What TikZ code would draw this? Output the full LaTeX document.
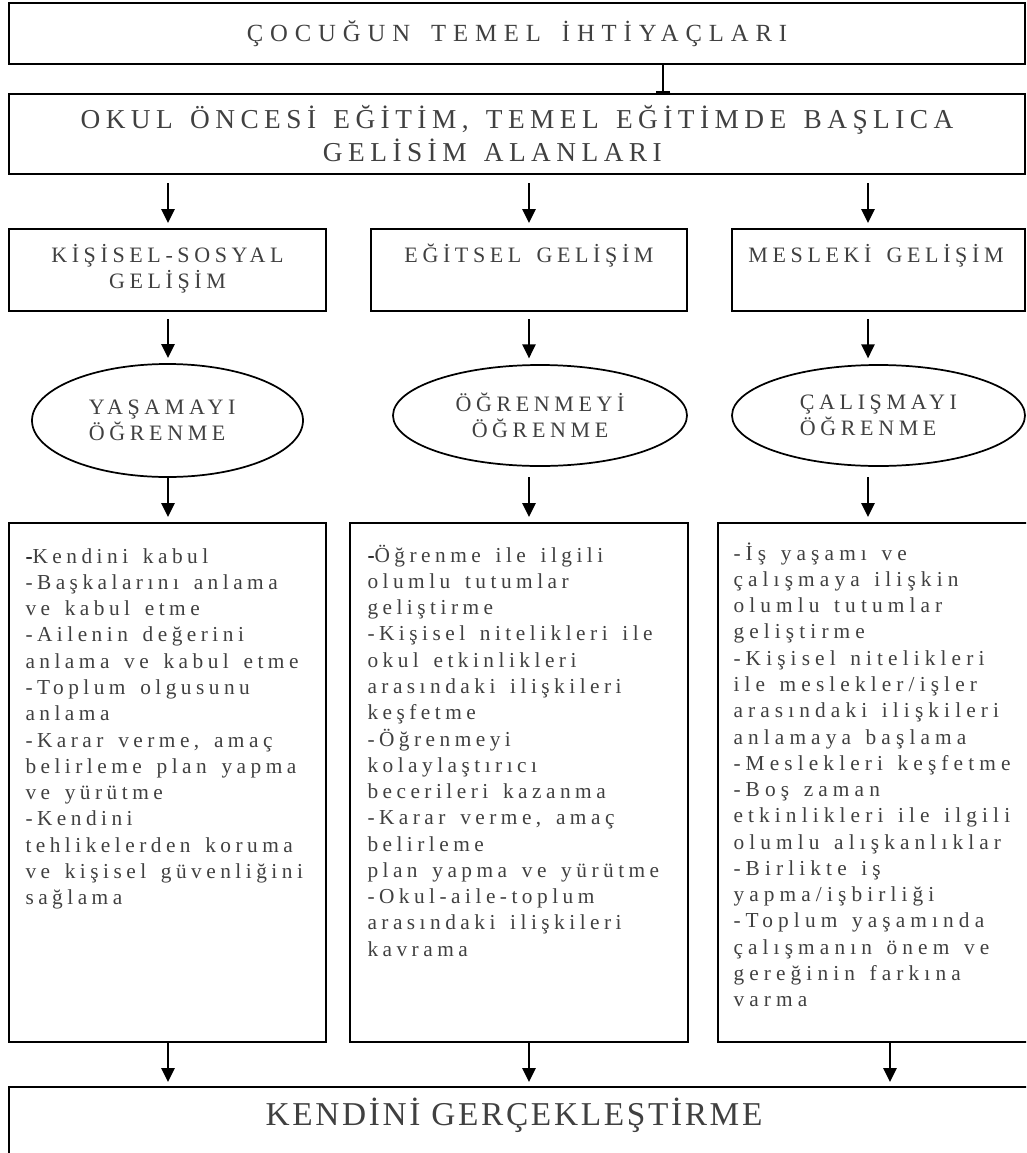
\documentclass[tikz,border=0pt]{standalone}
\usepackage{fontspec}
\setmainfont{Liberation Serif}
\newfontfamily\titlefont[LetterSpace=28,WordSpace=1.6]{Liberation Serif}
\newfontfamily\headfont[LetterSpace=20,WordSpace=1.4]{Liberation Serif}
\newfontfamily\rowfont[LetterSpace=21,WordSpace=1.3]{Liberation Serif}
\newfontfamily\listfont[LetterSpace=21,WordSpace=1.5]{Liberation Serif}
\newfontfamily\widelistfont[LetterSpace=24,WordSpace=1.4]{Liberation Serif}
\newfontfamily\endfont[LetterSpace=8]{Liberation Serif}
\usetikzlibrary{shapes.geometric,arrows.meta}
\definecolor{txtgray}{RGB}{64,64,64}

\tikzset{every picture/.style={line width=0.75pt}}
\tikzset{
  box/.style={draw, rectangle, line width=1.3pt, inner sep=0pt, outer sep=0pt},
  oval/.style={draw, ellipse, line width=1.3pt, inner sep=0pt, outer sep=0pt,
    text=txtgray, font={\fontsize{16.5}{19.5}\rowfont}},
  titletext/.style={text=txtgray, font={\fontsize{18.5}{22}\titlefont}},
  headtext/.style={text=txtgray, font={\fontsize{20.5}{24.75}\headfont}},
  rowtext/.style={inner sep=0pt, align=center, text=txtgray, font={\fontsize{16.5}{19.5}\rowfont}},
  listtext/.style={inner sep=0pt, align=left, text=txtgray, font={\fontsize{16}{19.7}\listfont}},
  widelisttext/.style={listtext, font={\fontsize{16}{19.7}\widelistfont}},
  endtext/.style={inner sep=0pt, text=txtgray, font={\fontsize{25}{29}\endfont}},
  arrow/.style={line width=1.3pt, -{Triangle[length=10.5pt,width=10pt]}},
  bararrow/.style={line width=1.3pt, -{Bar[width=11pt,line width=1.3pt]}}
}

\begin{document}
\begin{tikzpicture}[x=0.75pt,y=0.75pt,yscale=-1,xscale=1]
\path[use as bounding box] (0,0) rectangle (1026,1153);
\clip (0,0) rectangle (1026,1153);

% columns of the arrows
\coordinate (colT) at (663,0);
\coordinate (colA) at (168,0);
\coordinate (colB) at (529,0);
\coordinate (colC) at (868,0);
\coordinate (colD) at (890,0);

% Top boxes
\node[box, titletext, minimum width=762pt, minimum height=45.75pt] (ihtiyac) at (517,33.5) {\raisebox{-1.5pt}{ÇOCUĞUN TEMEL İHTİYAÇLARI}};
\node[box, headtext, align=center, minimum width=762pt, minimum height=60pt] (alanlar) at (517,134) {OKUL ÖNCESİ EĞİTİM, TEMEL EĞİTİMDE BAŞLICA\\GELİSİM ALANLARI\hspace*{1.8em}};

% Gelisim alanlari
\node[box, minimum width=237.75pt, minimum height=61.5pt] (kisisel) at (167.5,270) {};
\node[box, minimum width=237pt, minimum height=61.5pt] (egitsel) at (529,270) {};
\node[box, minimum width=219.75pt, minimum height=61.5pt] (mesleki) at (878.5,270) {};
% Text Node
\node[rowtext, anchor=north] (kisiselText) at (167.5,243) {\rule{0pt}{14pt}KİŞİSEL-SOSYAL\\GELİŞİM};
% Text Node
\node[rowtext, anchor=north] (egitselText) at (529,243) {\rule{0pt}{14pt}EĞİTSEL GELİŞİM};
% Text Node
\node[rowtext, anchor=north] (meslekiText) at (876,243) {\rule{0pt}{14pt}MESLEKİ GELİŞİM};

% Ellipses
\node[oval, align=left, minimum width=203.25pt, minimum height=84.75pt] (yasama) at (167.5,420.5) {YAŞAMAYI\hspace*{8pt}\\ÖĞRENME};
\node[oval, align=center, minimum width=220.5pt, minimum height=75.75pt] (ogrenme) at (540,415.5) {ÖĞRENMEYİ\\ÖĞRENME};
\node[oval, align=left, minimum width=219.75pt, minimum height=75.75pt] (calisma) at (878.5,415.5) {ÇALIŞMAYI\\ÖĞRENME};

% List boxes
\node[box, minimum width=237.75pt, minimum height=389.25pt] (yasamaList) at (167.5,782.5) {};
\node[box, minimum width=253.5pt, minimum height=389.25pt] (ogrenmeList) at (519,782.5) {};
\node[box, minimum width=241.5pt, minimum height=389.25pt] (calismaList) at (879,782.5) {};

% Text Node
\node[listtext, anchor=north west] (yasamaItems) at (25,544) {\rule{0pt}{14pt}{\color{black}-}Kendini kabul\\
-Başkalarını anlama\\
ve kabul etme\\
-Ailenin değerini\\
anlama ve kabul etme\\
-Toplum olgusunu\\
anlama\\
-Karar verme, amaç\\
belirleme plan yapma\\
ve yürütme\\
-Kendini\\
tehlikelerden koruma\\
ve kişisel güvenliğini\\
sağlama};
% Text Node
\node[listtext, anchor=north west] (ogrenmeItems) at (367,543) {\rule{0pt}{14pt}{\color{black}-}Öğrenme ile ilgili\\
olumlu tutumlar\\
geliştirme\\
-Kişisel nitelikleri ile\\
okul etkinlikleri\\
arasındaki ilişkileri\\
keşfetme\\
-Öğrenmeyi\\
kolaylaştırıcı\\
becerileri kazanma\\
-Karar verme, amaç\\
belirleme\\
plan yapma ve yürütme\\
-Okul-aile-toplum\\
arasındaki ilişkileri\\
kavrama};
% Text Node
\node[widelisttext, anchor=north west] (calismaItems) at (733,541) {\rule{0pt}{14pt}-İş yaşamı ve\\
çalışmaya ilişkin\\
olumlu tutumlar\\
geliştirme\\
-Kişisel nitelikleri\\
ile meslekler/işler\\
arasındaki ilişkileri\\
anlamaya başlama\\
-Meslekleri keşfetme\\
-Boş zaman\\
etkinlikleri ile ilgili\\
olumlu alışkanlıklar\\
-Birlikte iş\\
yapma/işbirliği\\
-Toplum yaşamında\\
çalışmanın önem ve\\
gereğinin farkına\\
varma};

% Bottom box
\node[box, anchor=north west, minimum width=776pt, minimum height=62pt] (kendini) at (9,1087) {};
% Text Node
\node[endtext, anchor=north] (kendiniText) at (514,1097) {KENDİNİ GERÇEKLEŞTİRME};

% Connectors
\draw[bararrow, shorten >=1pt] (ihtiyac.south -| colT) -- (alanlar.north -| colT);

\draw[arrow, shorten <=6.75pt, shorten >=4.5pt] (alanlar.south -| colA) -- (kisisel.north -| colA);
\draw[arrow, shorten <=6.75pt, shorten >=4.5pt] (alanlar.south -| colB) -- (egitsel.north -| colB);
\draw[arrow, shorten <=6.75pt, shorten >=4.5pt] (alanlar.south -| colC) -- (mesleki.north -| colC);

\draw[arrow, shorten <=6pt, shorten >=4.5pt] (kisisel.south -| colA) -- (yasama.north -| colA);
\draw[arrow, shorten <=6pt, shorten >=5pt] (egitsel.south -| colB) -- (ogrenme.north -| colB);
\draw[arrow, shorten <=6pt, shorten >=5pt] (mesleki.south -| colC) -- (calisma.north -| colC);

\draw[arrow, shorten >=4.5pt] (yasama.south -| colA) -- (yasamaList.north -| colA);
\draw[arrow, shorten <=8.25pt, shorten >=4.5pt] (ogrenme.south -| colB) -- (ogrenmeList.north -| colB);
\draw[arrow, shorten <=8.25pt, shorten >=4.5pt] (calisma.south -| colC) -- (calismaList.north -| colC);

\draw[arrow, shorten >=3.75pt] (yasamaList.south -| colA) -- (kendini.north -| colA);
\draw[arrow, shorten >=3.75pt] (ogrenmeList.south -| colB) -- (kendini.north -| colB);
\draw[arrow, shorten >=3.75pt] (calismaList.south -| colD) -- (kendini.north -| colD);

\end{tikzpicture}
\end{document}
